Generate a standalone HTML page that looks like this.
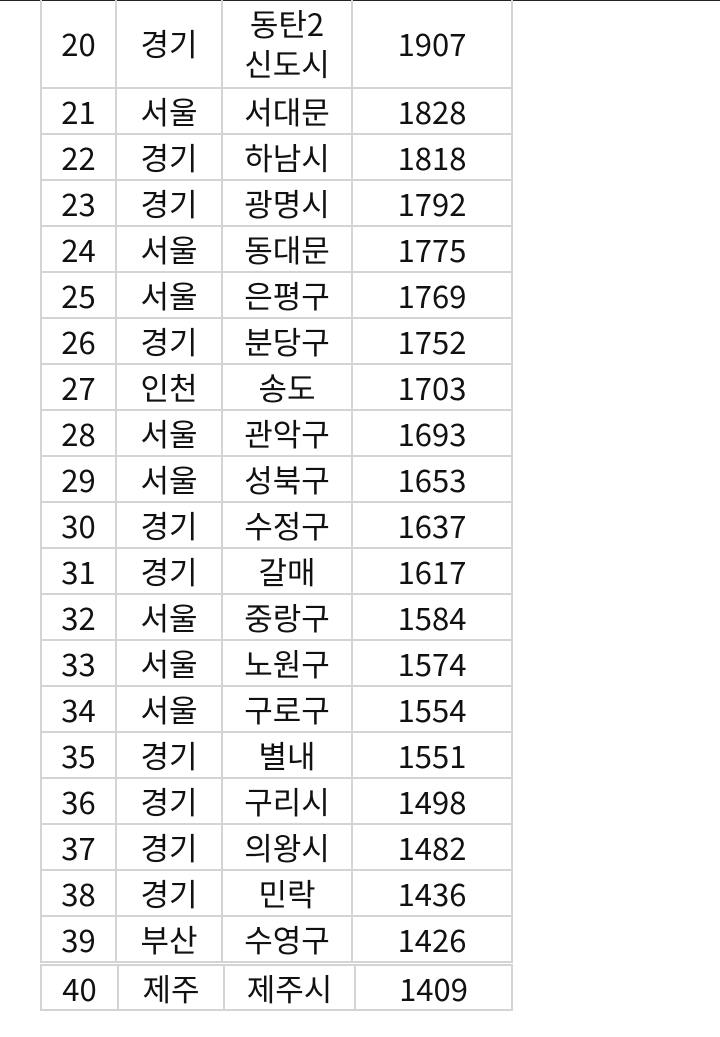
<!DOCTYPE html>
<html><head><meta charset="utf-8">
<style>
html,body{margin:0;padding:0;background:#fff;width:720px;height:1037px;overflow:hidden;position:relative;font-family:"Liberation Sans","Noto Sans CJK KR",sans-serif;}
.topline{position:absolute;left:0;top:0;width:720px;height:1px;background:#222;}
.cell{position:absolute;box-sizing:border-box;border:2px solid #d4d4d4;display:flex;align-items:center;justify-content:center;text-align:center;font-family:"Noto Sans CJK KR",sans-serif;font-size:31px;color:#111;line-height:40px;}
</style></head>
<body>
<div class="topline"></div>
<div id="tbl"></div>
<script>
const ranks=[20,21,22,23,24,25,26,27,28,29,30,31,32,33,34,35,36,37,38,39,40];
const regions=["경기","서울","경기","경기","서울","서울","경기","인천","서울","서울","경기","경기","서울","서울","서울","경기","경기","경기","경기","부산","제주"];
const areas=["동탄2<br>신도시","서대문","하남시","광명시","동대문","은평구","분당구","송도","관악구","성북구","수정구","갈매","중랑구","노원구","구로구","별내","구리시","의왕시","민락","수영구","제주시"];
const values=[1907,1828,1818,1792,1775,1769,1752,1703,1693,1653,1637,1617,1584,1574,1554,1551,1498,1482,1436,1426,1409];
const tbl=document.getElementById('tbl');
const colsA=[40,115,221,351,511];
const colsB=[40,117,223,354,511];
function cell(x,y,w,h,html,name){
  const d=document.createElement('div');
  d.className='cell';
  d.style.left=x+'px';d.style.top=y+'px';d.style.width=w+'px';d.style.height=h+'px';
  d.innerHTML=html;
  
  
  tbl.appendChild(d);
}
for(let i=0;i<ranks.length;i++){
  let y,h,cols=colsA;
  if(i===0){y=-3;h=92;}
  else if(i<ranks.length-1){y=87+(i-1)*46;h=48;}
  else{y=87+(i-1)*46+3;h=47;cols=colsB;}
  const vals=[ranks[i],regions[i],areas[i],values[i]];
  const names=['rank-cell','region-cell','area-cell','value-cell'];
  for(let c=0;c<4;c++){
    cell(cols[c],y,cols[c+1]-cols[c]+2,h,vals[c],names[c]);
  }
}
</script>
</body></html>
